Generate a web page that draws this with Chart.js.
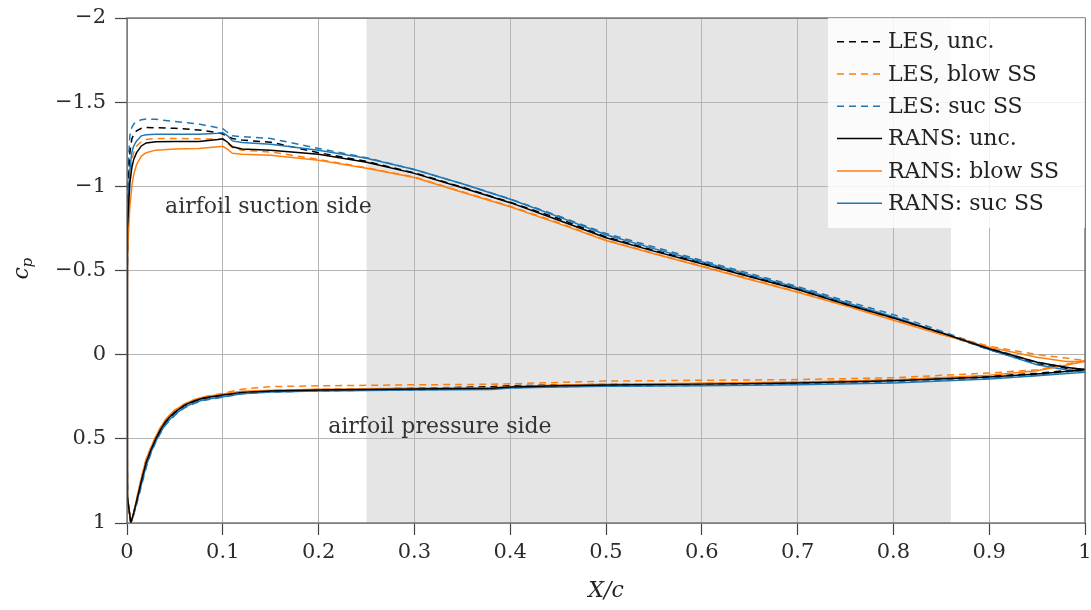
<!DOCTYPE html>
<html>
<head>
<meta charset="utf-8">
<script src="https://cdn.jsdelivr.net/npm/chart.js@4.4.1/dist/chart.umd.min.js"></script>
<style>
  html, body { margin: 0; padding: 0; background: #fff; }
  #cpChart { display: block; }
</style>
</head>
<body>
<canvas id="cpChart" width="1091" height="610"></canvas>
<script>
// chordwise stations: pressure side runs trailing edge -> leading edge, suction side leading edge -> trailing edge
var xPS = [1.0, 0.95, 0.9, 0.8, 0.7, 0.6, 0.5, 0.45, 0.4, 0.38, 0.3, 0.2, 0.15, 0.12, 0.1, 0.08, 0.07, 0.06, 0.05, 0.045, 0.04, 0.035, 0.03, 0.025, 0.02, 0.015, 0.01, 0.007, 0.004, 0.0005];
var xSS = [0, 0.0003, 0.001, 0.002, 0.003, 0.005, 0.007, 0.01, 0.015, 0.02, 0.03, 0.05, 0.075, 0.095, 0.1, 0.105, 0.11, 0.12, 0.15, 0.2, 0.25, 0.3, 0.35, 0.4, 0.45, 0.5, 0.55, 0.6, 0.65, 0.7, 0.75, 0.8, 0.85, 0.9, 0.95, 0.98, 1.0];

// LES
var lesUncPS  = [0.085, 0.11, 0.128, 0.15, 0.165, 0.172, 0.177, 0.18, 0.185, 0.19, 0.2, 0.207, 0.214, 0.224, 0.242, 0.26, 0.278, 0.303, 0.345, 0.372, 0.405, 0.45, 0.505, 0.57, 0.645, 0.76, 0.87, 0.94, 1.0, 0.85];
var lesUncSS  = [0.3, -0.5, -0.9, -1.1, -1.2, -1.28, -1.31, -1.33, -1.345, -1.349, -1.348, -1.345, -1.335, -1.318, -1.31, -1.298, -1.284, -1.275, -1.262, -1.2, -1.148, -1.08, -0.995, -0.905, -0.81, -0.7, -0.62, -0.545, -0.468, -0.392, -0.305, -0.222, -0.128, -0.03, 0.055, 0.08, 0.085];
var lesBlowPS = [0.035, 0.09, 0.109, 0.137, 0.148, 0.152, 0.157, 0.165, 0.173, 0.176, 0.179, 0.185, 0.19, 0.205, 0.23, 0.25, 0.268, 0.292, 0.33, 0.356, 0.388, 0.432, 0.487, 0.55, 0.62, 0.73, 0.86, 0.94, 1.0, 0.85];
var lesBlowSS = [0.3, -0.4, -0.75, -0.95, -1.05, -1.15, -1.2, -1.24, -1.265, -1.278, -1.284, -1.284, -1.282, -1.28, -1.28, -1.255, -1.23, -1.215, -1.204, -1.16, -1.11, -1.055, -0.968, -0.882, -0.785, -0.68, -0.602, -0.527, -0.45, -0.374, -0.292, -0.208, -0.125, -0.05, 0.0, 0.02, 0.035];
var lesSucPS  = [0.09, 0.122, 0.14, 0.163, 0.175, 0.182, 0.186, 0.19, 0.196, 0.203, 0.208, 0.215, 0.222, 0.232, 0.252, 0.272, 0.29, 0.316, 0.36, 0.388, 0.42, 0.466, 0.52, 0.585, 0.67, 0.78, 0.89, 0.95, 1.0, 0.85];
var lesSucSS  = [0.3, -0.6, -1.0, -1.2, -1.3, -1.35, -1.37, -1.385, -1.395, -1.4, -1.398, -1.385, -1.37, -1.348, -1.343, -1.32, -1.3, -1.295, -1.284, -1.225, -1.17, -1.1, -1.015, -0.925, -0.825, -0.72, -0.64, -0.56, -0.482, -0.405, -0.32, -0.238, -0.14, -0.04, 0.045, 0.075, 0.09];

// RANS
var ransUncPS  = [0.09, 0.115, 0.133, 0.155, 0.169, 0.175, 0.18, 0.185, 0.192, 0.2, 0.204, 0.21, 0.216, 0.224, 0.24, 0.258, 0.275, 0.3, 0.341, 0.368, 0.4, 0.445, 0.5, 0.565, 0.64, 0.75, 0.87, 0.94, 1.0, 0.85];
var ransUncSS  = [0.3, -0.4, -0.75, -0.92, -1.02, -1.11, -1.16, -1.2, -1.24, -1.258, -1.265, -1.266, -1.267, -1.278, -1.282, -1.262, -1.235, -1.222, -1.214, -1.19, -1.143, -1.077, -0.992, -0.903, -0.8, -0.695, -0.615, -0.54, -0.463, -0.387, -0.3, -0.218, -0.13, -0.035, 0.045, 0.075, 0.09];
var ransBlowPS = [0.04, 0.095, 0.122, 0.15, 0.163, 0.17, 0.175, 0.18, 0.19, 0.197, 0.2, 0.206, 0.212, 0.218, 0.234, 0.252, 0.268, 0.292, 0.33, 0.356, 0.388, 0.432, 0.487, 0.55, 0.62, 0.73, 0.86, 0.94, 1.0, 0.85];
var ransBlowSS = [0.3, -0.3, -0.6, -0.78, -0.88, -1.0, -1.07, -1.13, -1.18, -1.2, -1.215, -1.222, -1.225, -1.235, -1.238, -1.22, -1.196, -1.19, -1.185, -1.155, -1.107, -1.052, -0.965, -0.879, -0.78, -0.678, -0.6, -0.524, -0.447, -0.371, -0.29, -0.204, -0.12, -0.044, 0.015, 0.04, 0.04];
var ransSucPS  = [0.105, 0.125, 0.145, 0.168, 0.178, 0.184, 0.188, 0.192, 0.198, 0.207, 0.21, 0.216, 0.222, 0.232, 0.25, 0.268, 0.286, 0.312, 0.355, 0.382, 0.415, 0.46, 0.515, 0.58, 0.66, 0.77, 0.88, 0.95, 1.0, 0.85];
var ransSucSS  = [0.3, -0.5, -0.85, -1.0, -1.1, -1.2, -1.24, -1.27, -1.3, -1.306, -1.31, -1.31, -1.309, -1.316, -1.32, -1.3, -1.27, -1.26, -1.25, -1.215, -1.167, -1.1, -1.015, -0.923, -0.82, -0.712, -0.63, -0.552, -0.474, -0.397, -0.31, -0.225, -0.13, -0.03, 0.06, 0.09, 0.105];

var xTicks = [0, 0.1, 0.2, 0.3, 0.4, 0.5, 0.6, 0.7, 0.8, 0.9, 1];
var yTicks = [-2, -1.5, -1, -0.5, 0, 0.5, 1];
var shadeFrom = 0.25, shadeTo = 0.86;

var SERIF = '"DejaVu Serif", serif';
var BLUE = '#1f77b4', ORANGE = '#ff7f0e', BLACK = '#000000';

function airfoilLoop(ps, ss) {
    var pts = [];
    xPS.forEach(function (x, i) { pts.push({ x: x, y: ps[i] }); });
    xSS.forEach(function (x, i) { pts.push({ x: x, y: ss[i] }); });
    return pts;
}

function series(label, ps, ss, color, dashed) {
    return {
        label: label,
        data: airfoilLoop(ps, ss),
        borderColor: color,
        backgroundColor: color,
        borderWidth: 1.5,
        borderDash: dashed ? [7, 5] : [],
        pointRadius: 0,
        showLine: true,
        fill: false,
        tension: 0,
        order: dashed ? 1 : 0
    };
}

function fmt(v) {
    var n = Number(v.toFixed(2));
    return n < 0 ? '\u2212' + Math.abs(n) : String(n);
}

// grey band, legend box, annotations and axis titles
var decorations = {
    id: 'decorations',
    beforeDraw: function (chart) {
        var ctx = chart.ctx, a = chart.chartArea, xs = chart.scales.x;
        var x0 = xs.getPixelForValue(shadeFrom), x1 = xs.getPixelForValue(shadeTo);
        ctx.save();
        ctx.fillStyle = '#e5e5e5';
        ctx.fillRect(x0, a.top, x1 - x0, a.bottom - a.top);
        ctx.restore();
    },
    afterDatasetsDraw: function (chart) {
        var ctx = chart.ctx, a = chart.chartArea, xs = chart.scales.x, ys = chart.scales.y;
        ctx.save();
        ctx.fillStyle = '#333';
        ctx.font = '22px ' + SERIF;
        ctx.textAlign = 'left';
        ctx.textBaseline = 'alphabetic';
        ctx.fillText('airfoil suction side', xs.getPixelForValue(0.0397), ys.getPixelForValue(-0.839));
        ctx.fillText('airfoil pressure side', xs.getPixelForValue(0.21), ys.getPixelForValue(0.464));

        // frame
        ctx.strokeStyle = '#5a5a5a';
        ctx.lineWidth = 1.2;
        ctx.strokeRect(a.left, a.top, a.right - a.left, a.bottom - a.top);

        // legend
        var lw = 257, lh = 210;
        var lx = a.right - lw, ly = a.top;
        ctx.fillStyle = 'rgba(255,255,255,0.82)';
        ctx.fillRect(lx, ly, lw, lh);
        ctx.font = '22px ' + SERIF;
        ctx.textBaseline = 'middle';
        chart.data.datasets.forEach(function (ds, i) {
            var y = ly + 23.7 + i * 32.3;
            ctx.beginPath();
            ctx.strokeStyle = ds.borderColor;
            ctx.lineWidth = 1.5;
            ctx.setLineDash(ds.borderDash);
            ctx.moveTo(lx + 9, y);
            ctx.lineTo(lx + 54, y);
            ctx.stroke();
            ctx.setLineDash([]);
            ctx.fillStyle = '#222';
            ctx.fillText(ds.label, lx + 60, y + 1);
        });

        // axis titles
        ctx.fillStyle = '#222';
        ctx.textAlign = 'center';
        ctx.font = 'italic 22px ' + SERIF;
        ctx.fillText('X/c', (a.left + a.right) / 2, 591);

        ctx.translate(24, (a.top + a.bottom) / 2);
        ctx.rotate(-Math.PI / 2);
        ctx.textAlign = 'left';
        ctx.font = 'italic 22px ' + SERIF;
        ctx.fillText('c', -9, -2);
        ctx.font = 'italic 15px ' + SERIF;
        ctx.fillText('p', 3, 4);
        ctx.restore();
    }
};

new Chart(document.getElementById('cpChart'), {
    type: 'scatter',
    data: {
        datasets: [
            series('LES, unc.', lesUncPS, lesUncSS, BLACK, true),
            series('LES, blow SS', lesBlowPS, lesBlowSS, ORANGE, true),
            series('LES: suc SS', lesSucPS, lesSucSS, BLUE, true),
            series('RANS: unc.', ransUncPS, ransUncSS, BLACK, false),
            series('RANS: blow SS', ransBlowPS, ransBlowSS, ORANGE, false),
            series('RANS: suc SS', ransSucPS, ransSucSS, BLUE, false)
        ]
    },
    options: {
        responsive: false,
        animation: false,
        devicePixelRatio: 1,
        layout: { padding: { top: 18, right: 6, left: 0, bottom: 0 } },
        plugins: {
            legend: { display: false },
            tooltip: { enabled: false }
        },
        scales: {
            x: {
                type: 'linear',
                min: 0,
                max: 1,
                afterBuildTicks: function (scale) {
                    scale.ticks = xTicks.map(function (v) { return { value: v }; });
                },
                afterFit: function (scale) {
                    scale.height = 87;
                    scale.paddingLeft = 0;
                    scale.paddingRight = 0;
                },
                grid: { color: '#b4b4b4', lineWidth: 1, tickLength: 12, tickColor: '#444', tickWidth: 1.2 },
                border: { display: false },
                ticks: {
                    padding: 5,
                    maxRotation: 0,
                    color: '#2b2b2b',
                    font: { family: SERIF, size: 21 },
                    callback: function (v) { return fmt(v); }
                }
            },
            y: {
                type: 'linear',
                reverse: true,
                min: -2,
                max: 1,
                afterBuildTicks: function (scale) {
                    scale.ticks = yTicks.map(function (v) { return { value: v }; });
                },
                afterFit: function (scale) {
                    scale.width = 127;
                    scale.paddingTop = 0;
                    scale.paddingBottom = 0;
                },
                grid: { color: '#b4b4b4', lineWidth: 1, tickLength: 12, tickColor: '#444', tickWidth: 1.2 },
                border: { display: false },
                ticks: {
                    padding: 9,
                    color: '#2b2b2b',
                    font: { family: SERIF, size: 21 },
                    callback: function (v) { return fmt(v); }
                }
            }
        }
    },
    plugins: [decorations]
});
</script>
</body>
</html>
